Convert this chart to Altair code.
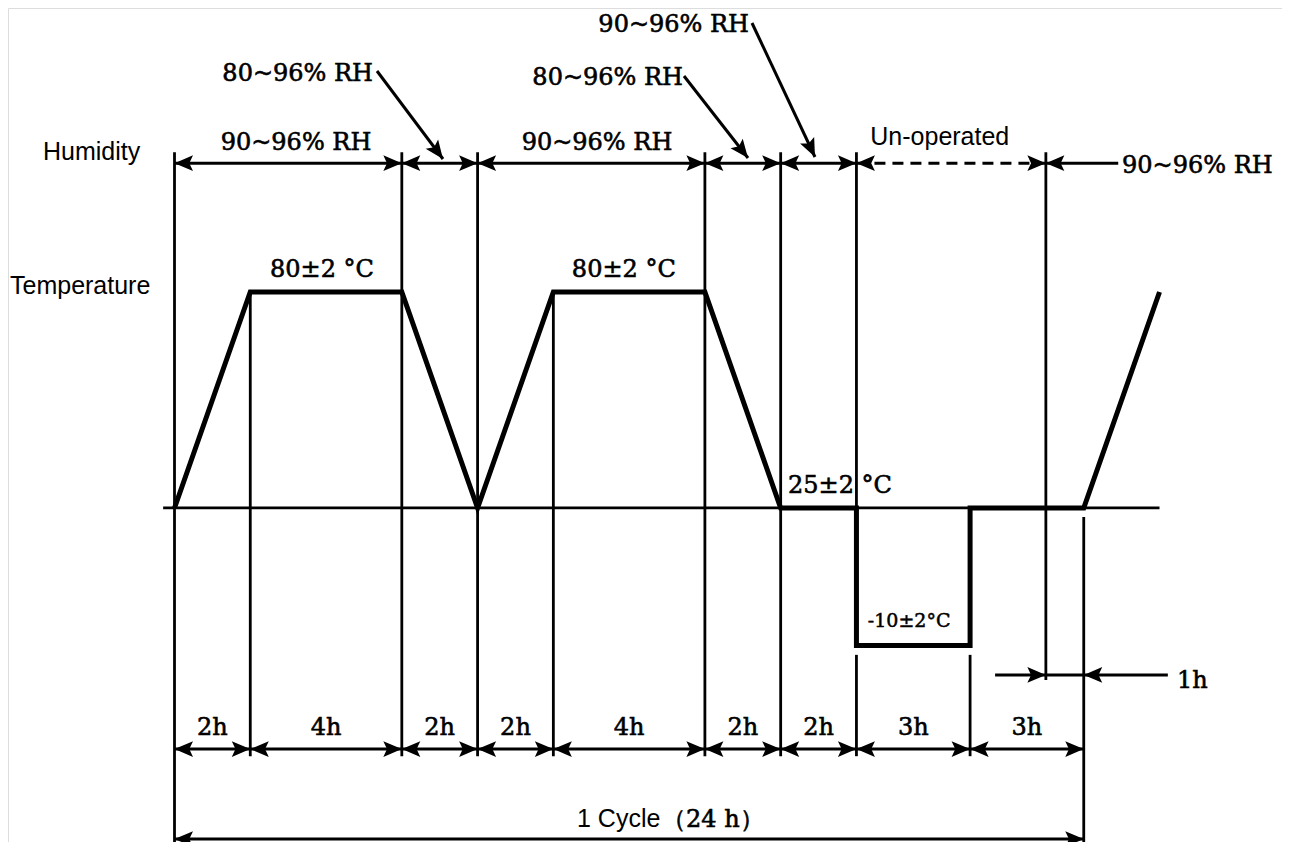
import math
import altair as alt
import pandas as pd

# ---------------- values ----------------
# temperature profile: hours vs. temperature (°C)
profile_hours = [0, 2, 6, 8, 10, 14, 16, 18, 18, 21, 21, 24, 26]
profile_temp = [25, 80, 80, 25, 80, 80, 25, 25, -10, -10, 25, 25, 80]

# bottom dimension line: step boundaries (h) and their labels
step_bounds = [0, 2, 6, 8, 10, 14, 16, 18, 21, 24]
step_labels = ["2h", "4h", "2h", "2h", "4h", "2h", "2h", "3h", "3h"]

# humidity bands (h)
hum_bounds = [0, 6, 8, 14, 16, 18]
unoperated = [18, 23]
rh_restart = 23
cycle_span = [0, 24]
one_hour = [23, 24]

rh_high = "90~96% RH"
rh_low = "80~96% RH"
temp_labels = ["80±2 °C", "80±2 °C", "25±2 °C", "-10±2°C"]

# ---------------- layout (chart units: hours × °C-scale) ----------------
W, H = 1274, 834
X0, X1 = -4.395, 29.233
Y0, Y1 = -60.05, 152.3
KX = W / (X1 - X0)
KY = H / (Y1 - Y0)

HUM_ROW = 112.8
TOP = 115.6
ONE_H_ROW = -17.5
DUR_ROW = -36.4
DUR_BOTTOM = -38.2
CYC_ROW = -59.3
CYC_BOTTOM = -62.0
GAP_BELOW_LOW = -12.4

SERIF = "DejaVu Serif"
SANS = "Liberation Sans"
INK = "black"
THIN = 2.8

xs = alt.Scale(domain=[X0, X1], nice=False, zero=False)
ys = alt.Scale(domain=[Y0, Y1], nice=False, zero=False)


def X(f):
    return alt.X(f, type="quantitative", scale=xs, axis=None)


def Y(f):
    return alt.Y(f, type="quantitative", scale=ys, axis=None)


ARROW = "M0,0L-1,-0.42L-0.8,0L-1,0.42Z"


def ang(t0, v0, t1, v1):
    a = math.degrees(math.atan2(-(v1 - v0) * KY, (t1 - t0) * KX))
    return a % 360


heads = []
hlines = []
dashed = []


def dim(a, b, y, store, left=True, right=True):
    store.append({"a": a, "b": b, "y": y})
    if left:
        heads.append({"t": a, "v": y, "ang": 180})
    if right:
        heads.append({"t": b, "v": y, "ang": 0})


# humidity row
for a, b in zip(hum_bounds[:-1], hum_bounds[1:]):
    dim(a, b, HUM_ROW, hlines)
dim(unoperated[0], unoperated[1], HUM_ROW, dashed)
dim(rh_restart, 24.91, HUM_ROW, hlines, right=False)

# duration row
for a, b in zip(step_bounds[:-1], step_bounds[1:]):
    dim(a, b, DUR_ROW, hlines)
# cycle row
dim(cycle_span[0], cycle_span[1], CYC_ROW, hlines)
# 1h indicator
hlines.append({"a": 21.66, "b": 26.22, "y": ONE_H_ROW})
heads.append({"t": one_hour[0], "v": ONE_H_ROW, "ang": 0})
heads.append({"t": one_hour[1], "v": ONE_H_ROW, "ang": 180})

# leader arrows from the upper labels
leaders = [
    (5.345, 136.26, 7.087, 113.85),
    (13.448, 134.99, 15.138, 114.11),
    (15.243, 148.48, 16.906, 114.36),
]
lead_df = pd.DataFrame(leaders, columns=["t0", "v0", "t1", "v1"])
for t0, v0, t1, v1 in leaders:
    heads.append({"t": t1, "v": v1, "ang": ang(t0, v0, t1, v1)})

verts = pd.DataFrame([
    (0, TOP, CYC_BOTTOM),
    (2, 80, DUR_BOTTOM),
    (6, TOP, DUR_BOTTOM),
    (8, TOP, DUR_BOTTOM),
    (10, 80, DUR_BOTTOM),
    (14, TOP, DUR_BOTTOM),
    (16, TOP, DUR_BOTTOM),
    (18, TOP, 25),
    (18, GAP_BELOW_LOW, DUR_BOTTOM),
    (21, GAP_BELOW_LOW, DUR_BOTTOM),
    (23, TOP, -18.8),
    (24, 22.7, CYC_BOTTOM),
], columns=["t", "y1", "y2"])

profile = pd.DataFrame({"t": profile_hours, "v": profile_temp,
                        "i": list(range(len(profile_hours)))})

layers = []

# baseline (25 °C)
base_df = pd.DataFrame({"a": [-0.3], "b": [26.0], "y": [25]})
layers.append(alt.Chart(base_df).mark_rule(color=INK, strokeWidth=THIN).encode(
    x=X("a"), x2="b", y=Y("y")))

layers.append(alt.Chart(verts).mark_rule(color=INK, strokeWidth=THIN).encode(
    x=X("t"), y=Y("y1"), y2="y2"))

layers.append(alt.Chart(pd.DataFrame(hlines)).mark_rule(color=INK, strokeWidth=3).encode(
    x=X("a"), x2="b", y=Y("y")))

layers.append(alt.Chart(pd.DataFrame(dashed)).mark_rule(
    color=INK, strokeWidth=3, strokeDash=[11, 7]).encode(
    x=X("a"), x2="b", y=Y("y")))

layers.append(alt.Chart(lead_df).mark_rule(color=INK, strokeWidth=3).encode(
    x=X("t0"), x2="t1", y=Y("v0"), y2="v1"))

layers.append(alt.Chart(profile).mark_line(
    color=INK, strokeWidth=5, strokeJoin="miter").encode(
    x=X("t"), y=Y("v"), order=alt.Order("i:Q")))

layers.append(alt.Chart(pd.DataFrame(heads)).mark_point(
    shape=ARROW, filled=True, size=1369, color=INK, opacity=1).encode(
    x=X("t"), y=Y("v"), angle=alt.Angle("ang:Q", scale=None)))


def text_layer(rows, font, size, align, bold=0.0):
    df = pd.DataFrame(rows, columns=["label", "t", "v"])
    props = dict(font=font, fontSize=size, align=align, baseline="alphabetic",
                 color=INK)
    if bold > 0:
        props.update(stroke=INK, strokeWidth=bold)
    return alt.Chart(df).mark_text(**props).encode(
        x=X("t"), y=Y("v"), text="label:N")


# serif, centred
mids = [(a + b) / 2 for a, b in zip(step_bounds[:-1], step_bounds[1:])]
serif_center = [(lab, m, -32.8) for lab, m in zip(step_labels, mids)]
serif_center += [
    (rh_high, 3.207, 116.1),
    (rh_high, 11.152, 116.1),
    (temp_labels[0], 3.893, 83.8),
    (temp_labels[1], 11.86, 83.8),
]
layers.append(text_layer(serif_center, SERIF, 24, "center", 0.6))

serif_right = [
    (rh_low, 5.239, 133.7),
    (rh_low, 13.422, 132.7),
    (rh_high, 15.164, 146.2),
]
layers.append(text_layer(serif_right, SERIF, 24, "right", 0.6))

serif_left = [
    (rh_high, 25.01, 110.3),
    (temp_labels[2], 16.194, 28.8),
    ("1h", 26.46, -20.8),
    ("（24 h）", 12.868, -56.2),
]
layers.append(text_layer(serif_left, SERIF, 24, "left", 0.6))

layers.append(text_layer([(temp_labels[3], 18.3, -5.3)], SERIF, 19, "left", 0.5))

sans_left = [
    ("Humidity", -3.471, 113.6),
    ("Temperature", -4.342, 79.5),
    ("1 Cycle", 10.624, -56.2),
]
layers.append(text_layer(sans_left, SANS, 25, "left"))
layers.append(text_layer([("Un-operated", 20.2, 117.4)], SANS, 25, "center"))

chart = alt.layer(*layers).properties(
    width=W, height=H, padding=0,
    autosize=alt.AutoSizeParams(type="none"),
).configure_view(strokeWidth=0).configure(background="white")

chart.save("out.html", embed_options={"renderer": "svg", "actions": False})
